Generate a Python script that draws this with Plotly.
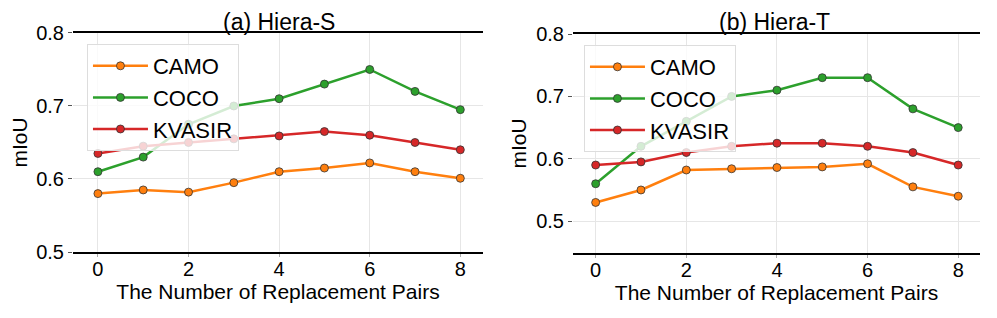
import plotly.graph_objects as go

x_pairs = [0, 1, 2, 3, 4, 5, 6, 7, 8]
series_names = ["CAMO", "COCO", "KVASIR"]
colors = ["#ff7f0e", "#2ca02c", "#d62728"]

s_camo = [0.580, 0.585, 0.582, 0.595, 0.610, 0.615, 0.622, 0.610, 0.601]
s_coco = [0.610, 0.630, 0.675, 0.700, 0.710, 0.730, 0.750, 0.720, 0.695]
s_kvasir = [0.635, 0.645, 0.650, 0.655, 0.659, 0.665, 0.660, 0.650, 0.640]

t_camo = [0.530, 0.550, 0.582, 0.584, 0.586, 0.587, 0.592, 0.555, 0.540]
t_coco = [0.560, 0.620, 0.660, 0.700, 0.710, 0.730, 0.730, 0.680, 0.650]
t_kvasir = [0.590, 0.595, 0.610, 0.620, 0.625, 0.625, 0.620, 0.610, 0.590]

titles = ["(a) Hiera-S", "(b) Hiera-T"]
x_title = "The Number of Replacement Pairs"
y_title = "mIoU"
x_ticks = [0, 2, 4, 6, 8]
y_ticks = [0.5, 0.6, 0.7, 0.8]

FONT = "Liberation Sans, Arial, sans-serif"
fig = go.Figure()

panels = [
    ([s_camo, s_coco, s_kvasir], "x", "y", "legend"),
    ([t_camo, t_coco, t_kvasir], "x2", "y2", "legend2"),
]
for vals, xa, ya, lg in panels:
    for name, v, c in zip(series_names, vals, colors):
        fig.add_trace(go.Scatter(
            x=x_pairs, y=v, name=name, mode="lines+markers",
            line=dict(color=c, width=2.5),
            marker=dict(color=c, size=8, line=dict(color="#333333", width=0.8)),
            xaxis=xa, yaxis=ya, legend=lg,
        ))

common_x = dict(
    tickvals=x_ticks, showline=True, mirror=True, linecolor="black", linewidth=1.5,
    showgrid=True, gridcolor="#e6e6e6", gridwidth=1, zeroline=False,
    ticks="outside", ticklen=3, tickcolor="#aaaaaa", automargin=False,
    ticklabelstandoff=-5,
    tickfont=dict(size=20, color="black", family=FONT),
    title=dict(text=x_title, font=dict(size=21, color="black", family=FONT), standoff=0),
)
common_y = dict(
    tickvals=y_ticks, tickformat=".1f", showline=False, showgrid=True,
    gridcolor="#e6e6e6", gridwidth=1, zeroline=False, automargin=False,
    ticks="outside", ticklen=4, tickcolor="#555555",
    tickfont=dict(size=20, color="black", family=FONT),
    title=dict(text=y_title, font=dict(size=21, color="black", family=FONT), standoff=3),
)

legend_common = dict(
    bgcolor="rgba(255,255,255,0.8)", bordercolor="#dddddd", borderwidth=1,
    font=dict(size=22, color="black", family=FONT),
    xanchor="left", yanchor="top", tracegroupgap=0, itemwidth=55,
)

fig.update_layout(
    width=997, height=318,
    margin=dict(l=0, r=0, t=0, b=0, autoexpand=False),
    paper_bgcolor="white", plot_bgcolor="white",
    showlegend=True,
    xaxis=dict(domain=[0.0652, 0.4764], range=[-0.55, 8.5], anchor="y", **common_x),
    yaxis=dict(domain=[0.2327, 0.9214], range=[0.5, 0.8], anchor="x", **common_y),
    xaxis2=dict(domain=[0.5667, 0.9749], range=[-0.5, 8.48], anchor="y2", **common_x),
    yaxis2=dict(domain=[0.2296, 0.9182], range=[0.449, 0.8], anchor="x2", **common_y),
    legend=dict(x=0.0792, y=0.8868, **legend_common),
    legend2=dict(x=0.5777, y=0.8836, **legend_common),
    annotations=[
        dict(text=titles[0], x=0.2723, y=1.0, xref="paper", yref="paper",
             xanchor="center", yanchor="top", showarrow=False, borderpad=0,
             font=dict(size=23, color="black", family=FONT)),
        dict(text=titles[1], x=0.7693, y=1.0, xref="paper", yref="paper",
             xanchor="center", yanchor="top", showarrow=False, borderpad=0,
             font=dict(size=23, color="black", family=FONT)),
    ],
)

fig.write_html("out.html")
